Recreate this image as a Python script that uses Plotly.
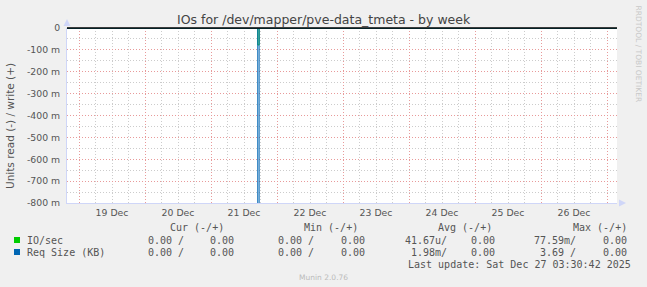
import pandas as pd
import plotly.graph_objects as go

# ---------------- data ----------------
bin_times = pd.date_range("2025-12-18 19:30", "2025-12-27 03:30", freq="30min")
spike_time = pd.Timestamp("2025-12-21 17:00")
io_read_peak = -0.07759      # IO/sec read (plotted negative)
req_read_peak = -3.69        # Req Size (KB) read (plotted negative)
io_read = [io_read_peak if t == spike_time else 0.0 for t in bin_times]
req_read = [req_read_peak if t == spike_time else 0.0 for t in bin_times]
io_write = [0.0 for _ in bin_times]
req_write = [0.0 for _ in bin_times]

day_ticks = pd.date_range("2025-12-19", "2025-12-27", freq="D")
day_labels = ["19 Dec", "20 Dec", "21 Dec", "22 Dec", "23 Dec", "24 Dec", "25 Dec", "26 Dec", ""]
y_ticks = [0, -0.1, -0.2, -0.3, -0.4, -0.5, -0.6, -0.7, -0.8]
y_labels = ["0", "-100 m", "-200 m", "-300 m", "-400 m", "-500 m", "-600 m", "-700 m", "-800 m"]

series_names = ["IO/sec", "Req Size (KB)"]
series_colors = ["#00CC00", "#0066B3"]
cur_vals = [("0.00 /", "0.00"), ("0.00 /", "0.00")]
min_vals = [("0.00 /", "0.00"), ("0.00 /", "0.00")]
avg_vals = [("41.67u/", "0.00"), ("1.98m/", "0.00")]
max_vals = [("77.59m/", "0.00"), ("3.69 /", "0.00")]
col_headers = ["Cur (-/+)", "Min (-/+)", "Avg (-/+)", "Max (-/+)"]

title_text = "IOs for /dev/mapper/pve-data_tmeta - by week"
last_update = "Last update: Sat Dec 27 03:30:42 2025"

# ---------------- layout helpers ----------------
W, H = 647, 287
L, R, T, B = 67, 617, 28, 203


def px(x):
    return (x - L) / (R - L)


def py(y):
    return (B - y) / (B - T)


x_range = [pd.Timestamp("2025-12-18 19:38"), pd.Timestamp("2025-12-27 03:38")]
minor_x = [t for t in pd.date_range("2025-12-18 00:00", "2025-12-27 18:00", freq="6h")
           if t.hour != 0 and x_range[0] <= t <= x_range[1]]
minor_y = [-0.05 - 0.1 * i for i in range(8)]

MAJOR = "#e89a9a"
MINOR = "#cccccc"
AXIS = "#CFD6F8"
FONT = "#555555"

fig = go.Figure()
for vals, color in [(io_read, series_colors[0]), (io_write, series_colors[0]),
                    (req_read, series_colors[1]), (req_write, series_colors[1])]:
    fig.add_trace(go.Scatter(x=bin_times, y=vals, mode="lines", line=dict(color=color, width=1, shape="hv"),
                             showlegend=False, hoverinfo="skip"))

fig.update_layout(
    width=W, height=H, autosize=False,
    margin=dict(l=L, r=W - R, t=T, b=H - B),
    paper_bgcolor="#F0F0F0", plot_bgcolor="#FFFFFF",
    showlegend=False,
    xaxis=dict(
        range=x_range, type="date",
        tickvals=day_ticks, ticktext=day_labels, ticklabelshift=33, ticklabelstandoff=1,
        tickfont=dict(family="DejaVu Sans", size=9.3, color=FONT),
        showgrid=True, gridcolor=MAJOR, griddash="1px,2px", gridwidth=1,
        minor=dict(tickvals=minor_x, showgrid=True, gridcolor=MINOR, griddash="1px,2px", gridwidth=1),
        showline=True, linecolor=AXIS, linewidth=1, ticks="", zeroline=False,
    ),
    yaxis=dict(
        range=[-0.8, 0],
        tickvals=y_ticks, ticktext=y_labels,
        tickfont=dict(family="DejaVu Sans", size=9.3, color=FONT),
        showgrid=True, gridcolor=MAJOR, griddash="1px,2px", gridwidth=1,
        minor=dict(tickvals=minor_y, showgrid=True, gridcolor=MINOR, griddash="1px,2px", gridwidth=1),
        showline=True, linecolor=AXIS, linewidth=1,
        ticks="outside", ticklen=4, tickcolor="rgba(0,0,0,0)", zeroline=False,
    ),
)

shapes = []
# zero rule
shapes.append(dict(type="line", xref="paper", yref="paper", x0=0, x1=1, y0=1, y1=1,
                   line=dict(color="#000000", width=1.5)))
# arrows
shapes.append(dict(type="path", xref="paper", yref="paper",
                   path=f"M {px(63.5)} {py(26)} L {px(70.5)} {py(26)} L {px(67)} {py(19)} Z",
                   fillcolor=AXIS, line=dict(width=0)))
shapes.append(dict(type="path", xref="paper", yref="paper",
                   path=f"M {px(619)} {py(199.5)} L {px(619)} {py(206.5)} L {px(626)} {py(203)} Z",
                   fillcolor=AXIS, line=dict(width=0)))
# legend squares
for i, c in enumerate(series_colors):
    yc = 240 + 12 * i
    shapes.append(dict(type="rect", xref="paper", yref="paper",
                       x0=px(14), x1=px(20), y0=py(yc + 3), y1=py(yc - 3),
                       fillcolor=c, line=dict(width=0)))
fig.update_layout(shapes=shapes)

ann = []


def text(t, x, y, size, family="DejaVu Sans Mono", color=FONT, xanchor="left", angle=0):
    ann.append(dict(text=t, x=px(x), y=py(y), xref="paper", yref="paper", showarrow=False,
                    xanchor=xanchor, yanchor="middle", textangle=angle, borderpad=0,
                    font=dict(family=family, size=size, color=color)))


text(title_text, 323.5, 20, 12.5, family="DejaVu Sans", color="#444444", xanchor="center")
text("Units read (-) / write (+)", 10, 126, 10.5, family="DejaVu Sans", xanchor="center", angle=-90)
text("RRDTOOL / TOBI OETIKER", 638, 53.5, 7.5, family="DejaVu Sans", color="#c8c8c8", xanchor="center", angle=90)

header_right = [225, 359, 493, 628]
for h, xr in zip(col_headers, header_right):
    text(h, xr, 227.5, 10, xanchor="right")

col_rights = [(185, 235), (315, 366), (448, 496), (577, 628)]
for i, name in enumerate(series_names):
    yc = 240 + 12 * i
    text(name, 26, yc, 10)
    for vals, (r1, r2) in zip([cur_vals, min_vals, avg_vals, max_vals], col_rights):
        text(vals[i][0], r1, yc, 10, xanchor="right")
        text(vals[i][1], r2, yc, 10, xanchor="right")

text(last_update, 632, 264, 10, xanchor="right")
text("Munin 2.0.76", 323.5, 277, 7.5, family="DejaVu Sans", color="#bbbbbb", xanchor="center")

fig.update_layout(annotations=ann)
fig.write_html("out.html")
